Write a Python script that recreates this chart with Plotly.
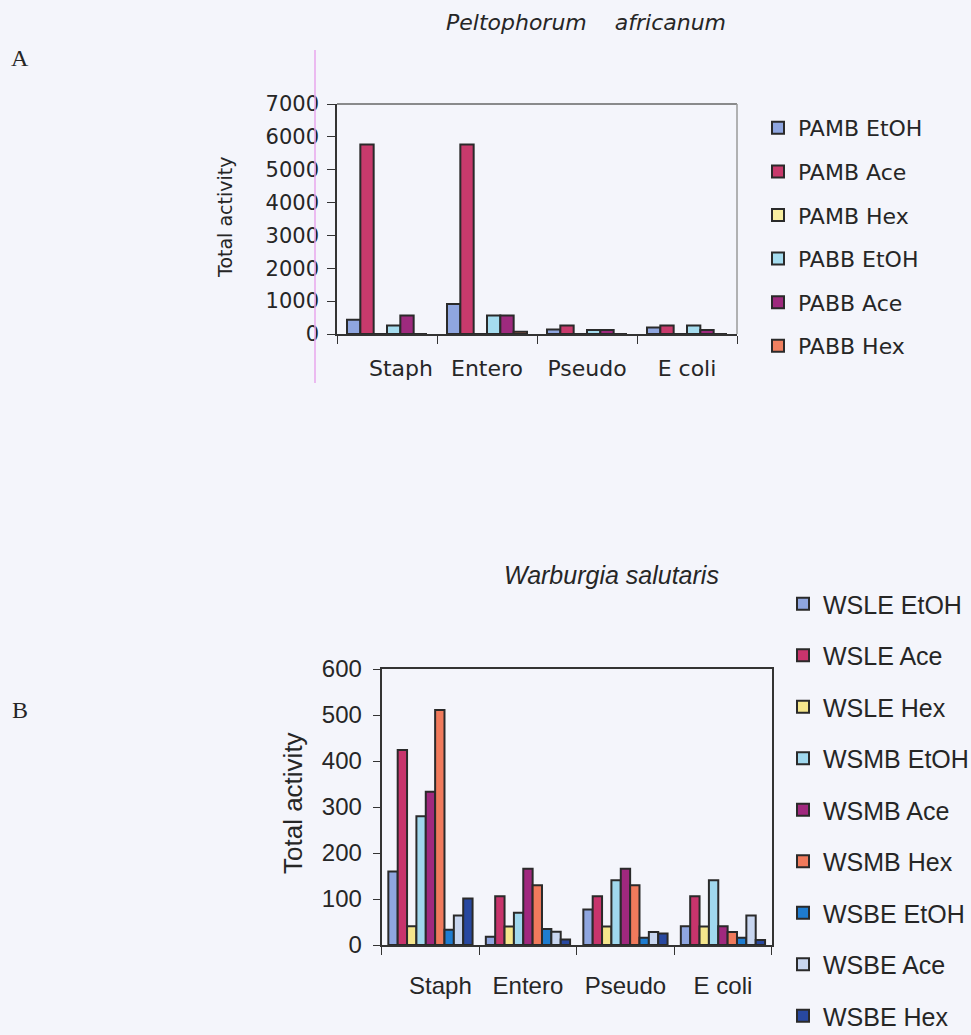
import plotly.graph_objects as go

W, H = 971, 1035

# ---- Data: Peltophorum africanum (A) ----
cats = ["Staph", "Entero", "Pseudo", "E. coli"]
cat_labels_a = ["Staph", "Entero", "Pseudo", "E coli"]
pa_names = ["PAMB EtOH", "PAMB Ace", "PAMB Hex", "PABB EtOH", "PABB Ace", "PABB Hex"]
pamb_etoh = [430, 910, 140, 200]
pamb_ace = [5770, 5770, 255, 255]
pamb_hex = [0, 0, 0, 0]
pabb_etoh = [255, 560, 125, 255]
pabb_ace = [560, 560, 125, 125]
pabb_hex = [0, 70, 0, 0]
pa_values = [pamb_etoh, pamb_ace, pamb_hex, pabb_etoh, pabb_ace, pabb_hex]
pa_colors = ["#8FA6E0", "#C83A6C", "#F8EEA0", "#A5DCEF", "#9E2A7E", "#F08060"]

# ---- Data: Warburgia salutaris (B) ----
ws_names = ["WSLE EtOH", "WSLE Ace", "WSLE Hex", "WSMB EtOH", "WSMB Ace",
            "WSMB Hex", "WSBE EtOH", "WSBE Ace", "WSBE Hex"]
wsle_etoh = [160, 18, 77, 41]
wsle_ace = [424, 106, 106, 106]
wsle_hex = [41, 40, 40, 40]
wsmb_etoh = [280, 70, 141, 141]
wsmb_ace = [333, 166, 166, 41]
wsmb_hex = [511, 130, 130, 28]
wsbe_etoh = [33, 35, 16, 16]
wsbe_ace = [64, 29, 28, 64]
wsbe_hex = [101, 12, 25, 11]
ws_values = [wsle_etoh, wsle_ace, wsle_hex, wsmb_etoh, wsmb_ace,
             wsmb_hex, wsbe_etoh, wsbe_ace, wsbe_hex]
ws_colors = ["#8FA6E0", "#C8346C", "#F5E68C", "#A0D8EE", "#A0287E",
             "#F07A5C", "#1E7CD0", "#C8D6F0", "#2848A0"]

BG = "#F4F5FB"
EDGE = "#2a2a2a"
TXT = "#262626"

fig = go.Figure()

# top chart bars
n = len(pa_names)
wa = 0.8 / n
for i, (nm, vals, col) in enumerate(zip(pa_names, pa_values, pa_colors)):
    fig.add_trace(go.Bar(
        x=cats, y=vals, name=nm, xaxis="x", yaxis="y",
        width=wa, offset=-0.4 + i * wa,
        marker=dict(color=col, line=dict(color=EDGE, width=2)),
        legend="legend", legendgroup=nm,
    ))

# bottom chart bars
m = len(ws_names)
wb = 0.864 / m
for i, (nm, vals, col) in enumerate(zip(ws_names, ws_values, ws_colors)):
    fig.add_trace(go.Bar(
        x=cats, y=vals, name=nm, xaxis="x2", yaxis="y2",
        width=wb, offset=-0.432 + i * wb,
        marker=dict(color=col, line=dict(color=EDGE, width=2)),
        legend="legend2", legendgroup=nm,
    ))

NB = "\u00a0"
tick_a = [NB * 4 + cat_labels_a[0]] + cat_labels_a[1:]
tick_b = [NB * 3 + cat_labels_a[0]] + cat_labels_a[1:]

fa = "DejaVu Sans"
fb = "Liberation Sans"


def ann(text, px, py, font, angle=0):
    return dict(text=text, x=px / W, y=1 - py / H, xref="paper", yref="paper",
                xanchor="center", yanchor="middle", showarrow=False,
                textangle=angle, font=font)


fig.update_layout(
    width=W, height=H,
    margin=dict(l=0, r=0, t=0, b=0, pad=0, autoexpand=False),
    paper_bgcolor=BG, plot_bgcolor=BG,
    barmode="group",
    showlegend=True,
    xaxis=dict(
        domain=[337 / W, 737 / W], anchor="y",
        type="category", categoryorder="array", categoryarray=cats,
        tickmode="array", tickvals=cats, ticktext=tick_a, tickangle=0,
        tickson="boundaries", ticks="outside", ticklen=8, tickcolor="#333",
        showline=True, linecolor="#333", linewidth=1.5,
        showgrid=False, zeroline=False,
        tickfont=dict(family=fa, size=22, color=TXT),
        ticklabelstandoff=14,
    ),
    yaxis=dict(
        domain=[1 - 334 / H, 1 - 104 / H], anchor="x",
        range=[0, 7000], dtick=1000, tick0=0,
        ticks="outside", ticklen=8, tickcolor="#333",
        showline=True, linecolor="#333", linewidth=1.5,
        showgrid=False, zeroline=False,
        tickfont=dict(family=fa, size=21, color=TXT),
        ticklabelstandoff=4,
    ),
    xaxis2=dict(
        domain=[381.7 / W, 771.7 / W], anchor="y2",
        type="category", categoryorder="array", categoryarray=cats,
        tickmode="array", tickvals=cats, ticktext=tick_b, tickangle=0,
        tickson="boundaries", ticks="outside", ticklen=8, tickcolor="#333",
        showline=True, mirror=True, linecolor="#333", linewidth=2,
        showgrid=False, zeroline=False,
        tickfont=dict(family=fb, size=24, color=TXT),
        ticklabelstandoff=18,
    ),
    yaxis2=dict(
        domain=[1 - 945 / H, 1 - 669 / H], anchor="x2",
        range=[0, 600], dtick=100, tick0=0,
        ticks="outside", ticklen=7, tickcolor="#333",
        showline=True, mirror=True, linecolor="#333", linewidth=2,
        showgrid=False, zeroline=False,
        tickfont=dict(family=fb, size=24, color=TXT),
        ticklabelstandoff=6,
    ),
    legend=dict(
        x=758 / W, xanchor="left", y=1 - 107 / H, yanchor="top",
        bgcolor="rgba(0,0,0,0)", borderwidth=0,
        font=dict(family=fa, size=22, color=TXT),
        traceorder="grouped", tracegroupgap=12, itemclick=False,
    ),
    legend2=dict(
        x=783 / W, xanchor="left", y=1 - 581 / H, yanchor="top",
        bgcolor="rgba(0,0,0,0)", borderwidth=0,
        font=dict(family=fb, size=25, color=TXT),
        traceorder="grouped", tracegroupgap=16, itemclick=False,
    ),
    shapes=[
        dict(type="line", xref="x domain", yref="y domain", x0=0, x1=1, y0=1, y1=1,
             line=dict(color="#666", width=1.5)),
        dict(type="line", xref="x domain", yref="y domain", x0=1, x1=1, y0=0, y1=1,
             line=dict(color="#9a9a9a", width=1.5)),
        dict(type="line", xref="paper", yref="paper", x0=315 / W, x1=315 / W,
             y0=1 - 50 / H, y1=1 - 383 / H, line=dict(color="#E8A6EC", width=1.5)),
    ],
    annotations=[
        ann("Peltophorum" + NB * 4 + "africanum", 586, 22,
            dict(family=fa, size=22, color=TXT, style="italic")),
        ann("Warburgia salutaris", 611, 575,
            dict(family=fb, size=25, color=TXT, style="italic")),
        ann("A", 20, 58, dict(family="Liberation Serif", size=24, color=TXT)),
        ann("B", 20, 710, dict(family="Liberation Serif", size=24, color=TXT)),
        ann("Total activity", 225, 218, dict(family=fa, size=19, color=TXT), -90),
        ann("Total activity", 293, 803, dict(family=fb, size=26, color=TXT), -90),
    ],
)

fig.write_html("out.html")
